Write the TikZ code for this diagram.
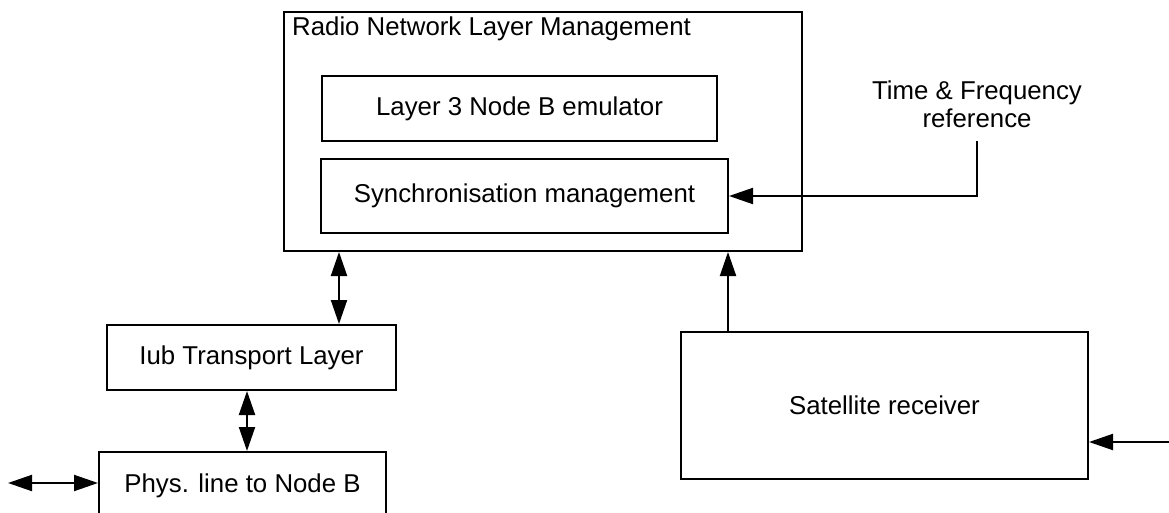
\documentclass[tikz,border=0pt]{standalone}
\usepackage{fontspec}
\setmainfont{Liberation Sans}
\usetikzlibrary{arrows.meta,calc}
\begin{document}
\begin{tikzpicture}[x=1pt,y=-1pt,
  box/.style={draw,line width=2pt,rectangle,inner sep=0pt,align=center},
  lbl/.style={inner sep=0pt,align=center},
  arr/.style={line width=2pt,-{Triangle[length=24pt,width=16pt]}},
  dbl/.style={line width=2pt,{Triangle[length=24pt,width=16pt]}-{Triangle[length=24pt,width=16pt]}}]
\path[use as bounding box] (0,0) rectangle (1169,513);
\clip (0,0) rectangle (1169,513);
\fontsize{25.8pt}{28pt}\selectfont
% boxes
\node[box,minimum width=518pt,minimum height=239pt] (outer) at (543,131.5) {};
\node[lbl,anchor=base west] (outerlbl) at (292,36) {Radio Network Layer Management};
\node[box,minimum width=395pt,minimum height=65pt] (l3) at (519.5,108.5) {Layer 3 Node B emulator};
\node[box,minimum width=407pt,minimum height=74pt] (sync) at (524.5,196) {Synchronisation management};
\node[box,minimum width=289pt,minimum height=65pt] (iub) at (251.5,357.5) {Iub Transport Layer};
\node[box,minimum width=287pt,minimum height=88pt] (phys) at (242.5,496) {};
\node[lbl,anchor=base] (physlbl) at (242.5,492) {Phys. line to Node B};
\node[box,minimum width=407pt,minimum height=147pt] (sat) at (884.5,405.5) {Satellite receiver};
\node[lbl,anchor=north] (tf) at (977,81) {Time \& Frequency\\reference};
% helper coordinates
\coordinate (c1) at (339,0);
\coordinate (c2) at (247,0);
\coordinate (c3) at (728,0);
\coordinate (L) at (8,483);
\coordinate (R) at (1169,442);
% connectors
\draw[dbl] (outer.south -| c1) -- (iub.north -| c1);
\draw[dbl] (iub.south -| c2) -- (phys.north -| c2);
\draw[dbl] (L) -- (phys.west |- L);
\draw[arr] ([yshift=-13pt]tf.south) |- (sync.east);
\draw[arr] (sat.north -| c3) -- (outer.south -| c3);
\draw[arr] (R) -- (sat.east |- R);
\end{tikzpicture}
\end{document}
